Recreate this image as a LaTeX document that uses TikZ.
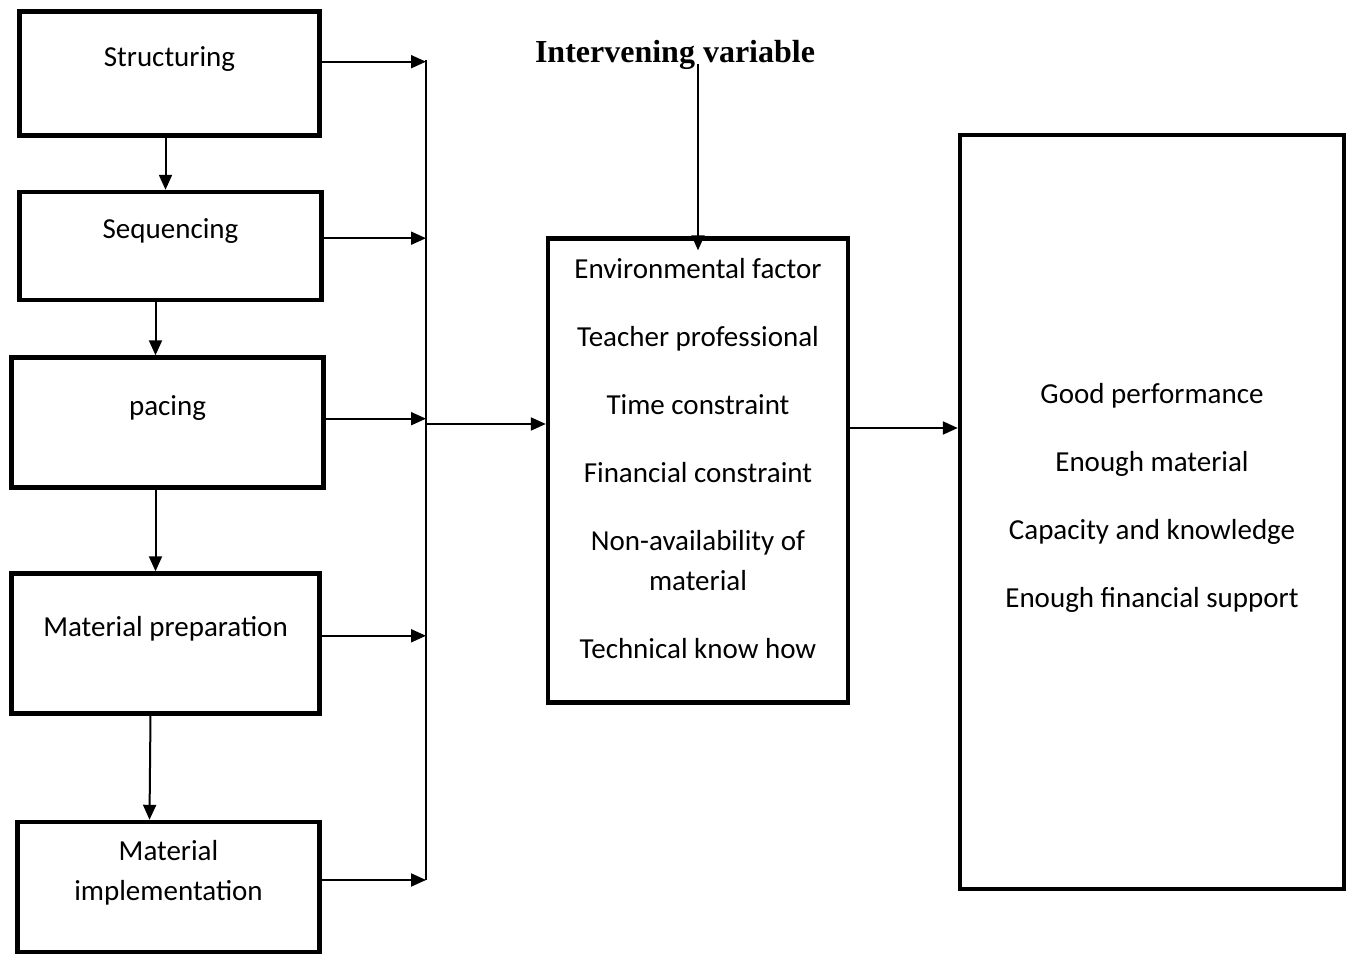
\documentclass[tikz,border=0pt]{standalone}
\usepackage{fontspec}
\setmainfont{Carlito}
\newfontfamily\headfont{Liberation Serif}
\usetikzlibrary{arrows.meta,positioning}

\begin{document}
\begin{tikzpicture}[x=0.5pt,y=-0.5pt,
    box/.style={rectangle, draw, line width=2.2pt, align=center, font=\fontsize{14.5}{20}\selectfont, text depth=17pt},
    arr/.style={-{Triangle[length=7.5pt,width=6.5pt]}, line width=1pt}]
        \useasboundingbox (0,0) rectangle (1351,956);
        \node[box, minimum width=150pt, minimum height=62pt] at (169.5,73.5) (struct) {Structuring};
        \node[box, minimum width=151pt, minimum height=54pt] at (170.5,246) (seq) {Sequencing};
        \node[box, minimum width=156pt, minimum height=65pt] at (167.5,422.5) (pace) {pacing};
        \node[box, minimum width=154pt, minimum height=70pt] at (165.5,643.5) (prep) {Material preparation};
        \node[box, minimum width=151pt, minimum height=65pt] at (168.5,887) (impl) {Material\\implementation};
        \node[box, text depth=12pt, minimum width=150pt, minimum height=232pt] at (698,470.5) (mid) {Environmental factor\\[14pt]Teacher professional\\[14pt]Time constraint\\[14pt]Financial constraint\\[14pt]Non-availability of\\material\\[14pt]Technical know how};
        \node[box, minimum width=192pt, minimum height=377pt] at (1152,512) (res) {Good performance\\[14pt]Enough material\\[14pt]Capacity and knowledge\\[14pt]Enough financial support};
        \node[font=\headfont\bfseries\fontsize{16}{19}\selectfont, inner sep=1pt] at (675,55) (title) {Intervening variable};
        \coordinate (bustop) at (426,60);
        \coordinate (busbot) at (426,880);
        \coordinate (link) at (426,424);
        \draw[line width=1pt] (bustop) -- (busbot);
        \draw[arr] (struct.mid east) -- (struct.mid east -| bustop);
        \draw[arr] ([yshift=-2pt]seq.mid east) -- ([yshift=-2pt]seq.mid east -| bustop);
        \draw[arr] ([yshift=-4pt]pace.mid east) -- ([yshift=-4pt]pace.mid east -| bustop);
        \draw[arr] ([yshift=-2pt]prep.mid east) -- ([yshift=-2pt]prep.mid east -| bustop);
        \draw[arr] ([yshift=3.5pt]impl.east) -- ([yshift=3.5pt]impl.east -| bustop);
        \draw[arr] ([xshift=-2pt]struct.south) -- ([xshift=-2pt]struct.south |- seq.north);
        \draw[arr] ([xshift=-7.5pt]seq.south) -- ([xshift=-7.5pt]seq.south |- pace.north);
        \draw[arr] ([xshift=-6pt]pace.south) -- ([xshift=-6pt]pace.south |- prep.north);
        \draw[arr] ([xshift=-7.5pt]prep.south) -- ([xshift=-8pt]prep.south |- impl.north);
        \draw[arr] (link) -- (link -| mid.west);
        \draw[arr] ([yshift=-2pt]link -| mid.east) -- ([yshift=-2pt]link -| res.west);
        \draw[arr, shorten <=-4pt, shorten >=-7pt] (title.south -| mid.north) -- (mid.north);
      \end{tikzpicture}
\end{document}
